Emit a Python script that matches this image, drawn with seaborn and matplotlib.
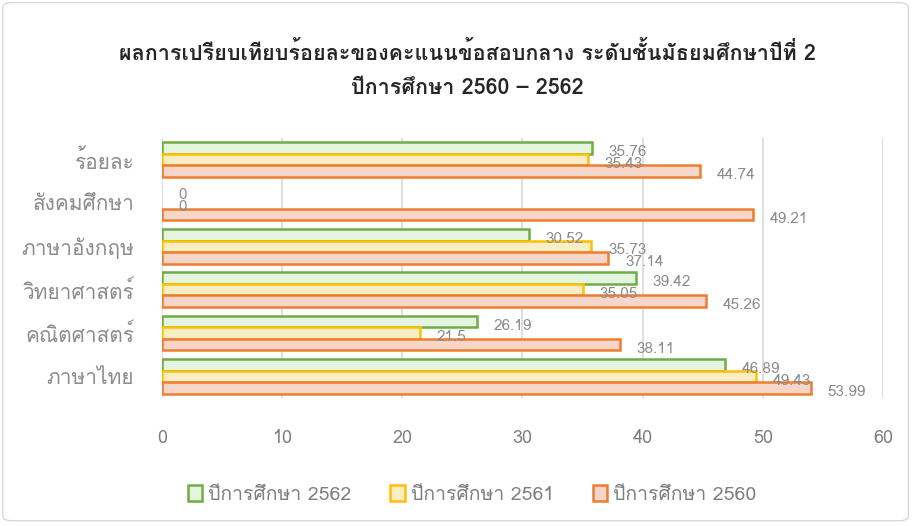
import pandas as pd
import seaborn as sns
import matplotlib.pyplot as plt
from matplotlib import font_manager
from matplotlib.ft2font import FT2Font
from matplotlib.patches import FancyBboxPatch

# data
subjects = ['ร้อยละ', 'สังคมศึกษา', 'ภาษาอังกฤษ', 'วิทยาศาสตร์', 'คณิตศาสตร์', 'ภาษาไทย']
years = ['ปีการศึกษา 2562', 'ปีการศึกษา 2561', 'ปีการศึกษา 2560']
y2562 = [35.76, 0, 30.52, 39.42, 26.19, 46.89]
y2561 = [35.43, 0, 35.73, 35.05, 21.5, 49.43]
y2560 = [44.74, 49.21, 37.14, 45.26, 38.11, 53.99]
x_ticks = [0, 10, 20, 30, 40, 50, 60]

fills = ['#e3f7dc', '#fff3bd', '#fdd3c0']
edges = ['#70ad47', '#ffc000', '#ed7d31']

rows = []
for yr, vals in zip(years, [y2562, y2561, y2560]):
    for s, v in zip(subjects, vals):
        rows.append({'subject': s, 'year': yr, 'score': v})
df = pd.DataFrame(rows)

# find a font that has Thai glyphs
thai_font = None
for f in font_manager.fontManager.ttflist:
    try:
        if 0x0E01 in FT2Font(f.fname).get_charmap():
            thai_font = f.name
            break
    except Exception:
        pass

sns.set_style('white')
fams = ['DejaVu Sans']
if thai_font:
    fams = [thai_font, 'DejaVu Sans']
plt.rcParams['font.family'] = fams

fig = plt.figure(figsize=(9.13, 5.26), dpi=100)
ax = fig.add_axes([0.1774, 0.243, 0.7897, 0.495])

sns.barplot(data=df, x='score', y='subject', hue='year', order=subjects,
            hue_order=years, palette=fills, orient='h', width=0.8,
            ax=ax, legend=True)

for cont, ec in zip(ax.containers, edges):
    for bar, v in zip(cont, cont.datavalues):
        bar.set_edgecolor(ec)
        bar.set_linewidth(1.8 if v > 0 else 0)
    labels = [f'{v:g}' for v in cont.datavalues]
    for bar, lab in zip(cont, labels):
        ax.annotate(lab, (bar.get_width(), bar.get_y() + bar.get_height() / 2),
                    xytext=(12, -3), textcoords='offset points',
                    ha='left', va='center', fontsize=11, color='#8c8c8c')

ax.set_xlim(0, 60)
ax.set_xticks(x_ticks)
ax.set_ylim(5.5, -0.5)
ax.grid(axis='x', color='#d9d9d9', linewidth=1.2)
ax.set_axisbelow(True)
for sp in ax.spines.values():
    sp.set_visible(False)
ax.set_xlabel('')
ax.set_ylabel('')
ax.tick_params(axis='x', colors='#808080', labelsize=13, pad=22, length=0)
ax.tick_params(axis='y', colors='#8c8c8c', labelsize=15, pad=20, length=0)

handles, labels = ax.get_legend_handles_labels()
for h, ec in zip(handles, edges):
    h.set_edgecolor(ec)
    h.set_linewidth(1.8)
ax.legend(handles, labels, loc='center', bbox_to_anchor=(0.43, -0.37),
          ncol=3, frameon=False, fontsize=14, labelcolor='#7f7f7f',
          handlelength=0.75, handleheight=0.9, columnspacing=2.0,
          handletextpad=0.3)

fig.text(0.512, 0.9, 'ผลการเปรียบเทียบร้อยละของคะแนนข้อสอบกลาง ระดับชั้นมัธยมศึกษาปีที่ 2',
         ha='center', va='center', fontsize=15.5, fontweight='bold')
fig.text(0.512, 0.832, 'ปีการศึกษา 2560 – 2562',
         ha='center', va='center', fontsize=15.5, fontweight='bold')

fig.patches.append(FancyBboxPatch((0.003, 0.01), 0.992, 0.985,
                                  boxstyle='round,pad=0,rounding_size=0.01',
                                  transform=fig.transFigure, fill=False,
                                  edgecolor='#d9d9d9', linewidth=1))

fig.savefig('out.png', dpi=100)
